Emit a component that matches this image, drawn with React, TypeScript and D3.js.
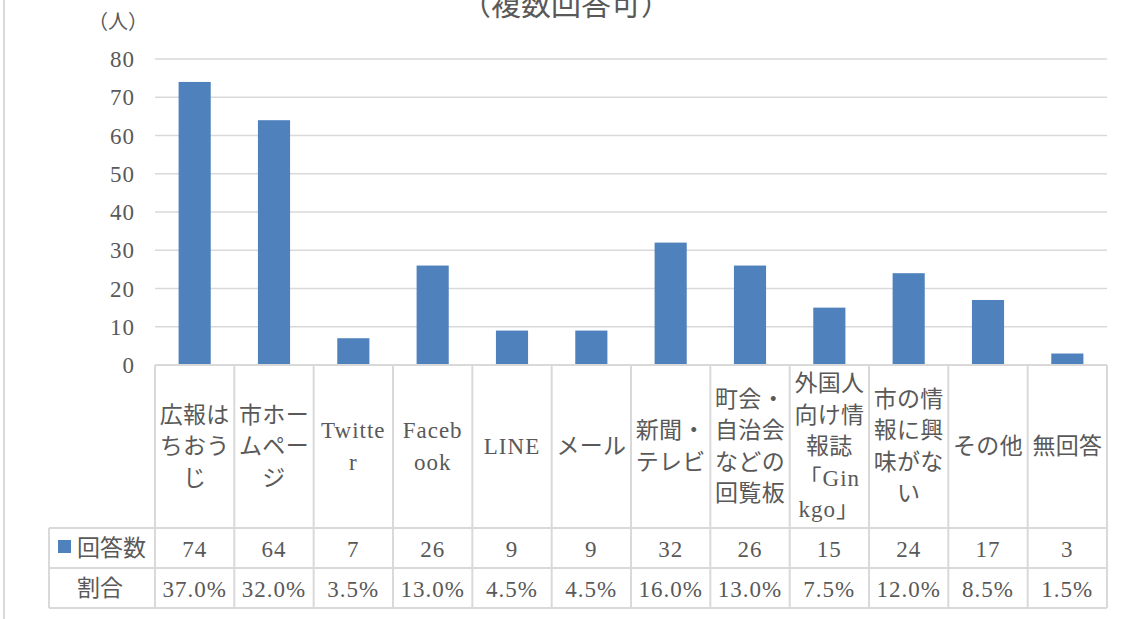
import { scaleBand, scaleLinear } from "d3";

const categories = [
  ["広報は", "ちおう", "じ"],
  ["市ホー", "ムペー", "ジ"],
  ["Twitte", "r"],
  ["Faceb", "ook"],
  ["LINE"],
  ["メール"],
  ["新聞・", "テレビ"],
  ["町会・", "自治会", "などの", "回覧板"],
  ["外国人", "向け情", "報誌", "「Gin", "kgo」"],
  ["市の情", "報に興", "味がな", "い"],
  ["その他"],
  ["無回答"],
];
const counts = [74, 64, 7, 26, 9, 9, 32, 26, 15, 24, 17, 3];
const shares = ["37.0%", "32.0%", "3.5%", "13.0%", "4.5%", "4.5%", "16.0%", "13.0%", "7.5%", "12.0%", "8.5%", "1.5%"];
const yTicks = [0, 10, 20, 30, 40, 50, 60, 70, 80];
const seriesName = "回答数";
const shareName = "割合";
const title = "（複数回答可）";
const unitLabel = "（人）";

const FONT = "'Liberation Serif', 'DejaVu Serif', 'Noto Sans CJK JP', serif";
const TEXT = "#595959";
const GRID = "#d9d9d9";
const BAR = "#4f81bd";
const FS = 23;

// latin text in the original is a wide serif, so widen it a touch
const spacing = (s: string) => (/[A-Za-z0-9]/.test(s) ? 1 : 0.3);

export default function App() {
  const width = 1132;
  const height = 619;
  const plot = { left: 155, right: 1107, top: 59, bottom: 365 };
  const labelBottom = 528;
  const row1Bottom = 568;
  const row2Bottom = 608;
  const tableLeft = 49;

  const keys = categories.map((_, i) => String(i));
  const x = scaleBand().domain(keys).range([plot.left, plot.right]).paddingInner(0).paddingOuter(0);
  const y = scaleLinear().domain([0, 80]).range([plot.bottom, plot.top]);
  const bw = x.bandwidth();
  const barW = bw * 0.405;
  const lineH = 31.5;
  const labelMid = 446;
  const mid = (i: number) => (x(String(i)) ?? 0) + bw / 2;

  return (
    <svg
      width={width}
      height={height}
      style={{ position: "absolute", left: 0, top: 0, background: "#fff" }}
      fontFamily={FONT}
    >
      <line x1={4} x2={4} y1={0} y2={height} stroke={GRID} strokeWidth={2} />

      <text x={566} y={15} textAnchor="middle" fontSize={30} fill={TEXT}>
        {title}
      </text>
      <text x={118} y={29} textAnchor="middle" fontSize={20} fill={TEXT}>
        {unitLabel}
      </text>

      {yTicks.map((t) => (
        <g key={t}>
          <line x1={plot.left} x2={plot.right} y1={y(t)} y2={y(t)} stroke={GRID} strokeWidth={1.5} />
          <text x={135} y={y(t) + 8} textAnchor="end" fontSize={FS} fill={TEXT} letterSpacing={1}>
            {t}
          </text>
        </g>
      ))}

      {counts.map((v, i) => (
        <rect key={i} x={mid(i) - barW / 2} y={y(v)} width={barW} height={y(0) - y(v)} fill={BAR} />
      ))}

      {/* data table */}
      <g stroke={GRID} strokeWidth={2}>
        <line x1={plot.left} x2={plot.right} y1={plot.bottom} y2={plot.bottom} />
        <line x1={tableLeft} x2={plot.right} y1={labelBottom} y2={labelBottom} />
        <line x1={tableLeft} x2={plot.right} y1={row1Bottom} y2={row1Bottom} />
        <line x1={tableLeft} x2={plot.right} y1={row2Bottom} y2={row2Bottom} />
        <line x1={tableLeft} x2={tableLeft} y1={labelBottom} y2={row2Bottom} />
        {keys.map((k) => (
          <line key={k} x1={x(k) ?? 0} x2={x(k) ?? 0} y1={plot.bottom} y2={row2Bottom} />
        ))}
        <line x1={plot.right} x2={plot.right} y1={plot.bottom} y2={row2Bottom} />
      </g>

      {categories.map((lines, i) => {
        const y0 = labelMid - ((lines.length - 1) * lineH) / 2;
        return (
          <text key={i} textAnchor="middle" fontSize={FS} fill={TEXT}>
            {lines.map((ln, j) => (
              <tspan key={j} x={mid(i)} y={y0 + j * lineH + 8} letterSpacing={spacing(ln)}>
                {ln}
              </tspan>
            ))}
          </text>
        );
      })}

      <rect x={58} y={540} width={13} height={13} fill={BAR} />
      <text x={77} y={556} fontSize={FS} fill={TEXT}>
        {seriesName}
      </text>
      <text x={100} y={596} textAnchor="middle" fontSize={FS} fill={TEXT}>
        {shareName}
      </text>

      {counts.map((v, i) => (
        <text key={i} x={mid(i)} y={557} textAnchor="middle" fontSize={FS} fill={TEXT} letterSpacing={1}>
          {v}
        </text>
      ))}
      {shares.map((s, i) => (
        <text key={i} x={mid(i)} y={597} textAnchor="middle" fontSize={FS} fill={TEXT} letterSpacing={1}>
          {s}
        </text>
      ))}
    </svg>
  );
}
